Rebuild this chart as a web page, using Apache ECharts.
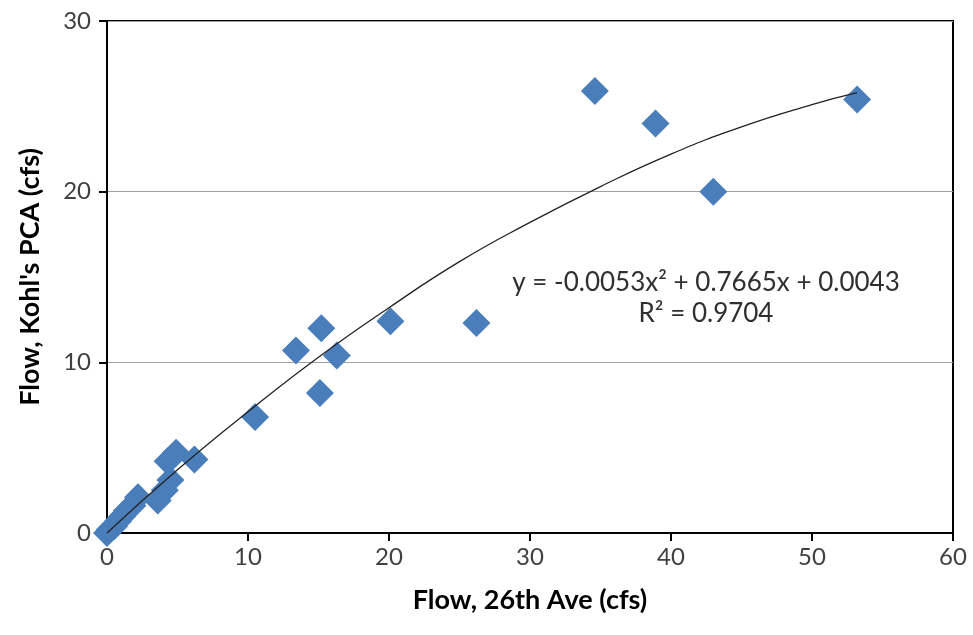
<!DOCTYPE html>
<html>
<head>
<meta charset="utf-8">
<script src="https://cdn.jsdelivr.net/npm/echarts@6/dist/echarts.min.js"></script>
<style>
html, body { margin: 0; padding: 0; background: #fff; }
#main { width: 973px; height: 635px; }
</style>
</head>
<body>
<div id="main"></div>
<script>
var myChart = echarts.init(document.getElementById('main'));

// measured points: flow at 26th Ave (x) vs Kohl's PCA (y)
var flow26 = [0, 0.2, 0.5, 0.8, 1.1, 1.4, 1.8, 2.2, 3.6, 4.1, 4.5, 4.3, 4.9, 6.2,
	10.5, 13.4, 15.2, 16.3, 15.1, 20.1, 26.2, 34.6, 38.9, 43.0, 53.2];
var flowKohl = [0, 0.2, 0.4, 0.7, 1.0, 1.3, 1.6, 2.1, 1.9, 2.5, 3.1, 4.2, 4.7, 4.3,
	6.8, 10.7, 12.0, 10.4, 8.2, 12.4, 12.3, 25.9, 24.0, 20.0, 25.4];

// polynomial trendline
var trendX = [0, 5, 10, 15, 20, 25, 30, 35, 40, 45, 50, 53.2];
var trendY = [0, 3.7, 7.1, 10.3, 13.2, 15.9, 18.2, 20.3, 22.2, 23.8, 25.1, 25.8];

var xTicks = [0, 10, 20, 30, 40, 50, 60];
var yTicks = [0, 10, 20, 30];

var eqText = 'y = -0.0053x² + 0.7665x + 0.0043';
var r2Text = 'R² = 0.9704';

var font = 'Lato, "Open Sans", sans-serif';

var option = {
	backgroundColor: '#fff',
	animation: false,
	grid: {
		left: 107,
		right: 20,
		top: 21,
		bottom: 102,
		show: true,
		borderColor: '#000',
		borderWidth: 2
	},
	xAxis: {
		type: 'value',
		min: xTicks[0],
		max: xTicks[xTicks.length - 1],
		interval: 10,
		name: 'Flow, 26th Ave (cfs)',
		nameLocation: 'middle',
		nameGap: 54,
		nameTextStyle: { fontFamily: font, fontSize: 27, fontWeight: 'bold', color: '#000' },
		axisLine: { lineStyle: { color: '#000', width: 2 } },
		axisTick: { show: true, inside: false, length: 8, lineStyle: { color: '#000', width: 2 } },
		axisLabel: { fontFamily: font, fontSize: 24, color: '#404040', margin: 12 },
		splitLine: { show: false }
	},
	yAxis: {
		type: 'value',
		min: yTicks[0],
		max: yTicks[yTicks.length - 1],
		interval: 10,
		name: "Flow, Kohl's PCA (cfs)",
		nameLocation: 'middle',
		nameGap: 63,
		nameTextStyle: { fontFamily: font, fontSize: 27, fontWeight: 'bold', color: '#000' },
		axisLine: { lineStyle: { color: '#000', width: 2 } },
		axisTick: { show: true, inside: false, length: 8, lineStyle: { color: '#000', width: 2 } },
		axisLabel: { fontFamily: font, fontSize: 24, color: '#404040', margin: 16 },
		splitLine: { show: true, lineStyle: { color: '#a0a0a0', width: 1 } }
	},
	series: [{
			type: 'line',
			name: 'trend',
			data: trendX.map(function(x, i) { return [x, trendY[i]]; }),
			smooth: true,
			showSymbol: false,
			lineStyle: { color: '#222', width: 1.3 },
			z: 3
		},
		{
			type: 'scatter',
			name: 'flow',
			data: flow26.map(function(x, i) { return [x, flowKohl[i]]; }),
			symbol: 'diamond',
			symbolSize: [28, 28],
			itemStyle: { color: '#4a7ebb', opacity: 1 },
			z: 2
		}
	],
	graphic: [{
			type: 'text',
			x: 706,
			y: 283,
			style: { text: eqText, fontFamily: font, fontSize: 26, fill: '#303030', align: 'center', verticalAlign: 'middle' }
		},
		{
			type: 'text',
			x: 706,
			y: 314,
			style: { text: r2Text, fontFamily: font, fontSize: 26, fill: '#303030', align: 'center', verticalAlign: 'middle' }
		}
	]
};

myChart.setOption(option);
</script>
</body>
</html>
